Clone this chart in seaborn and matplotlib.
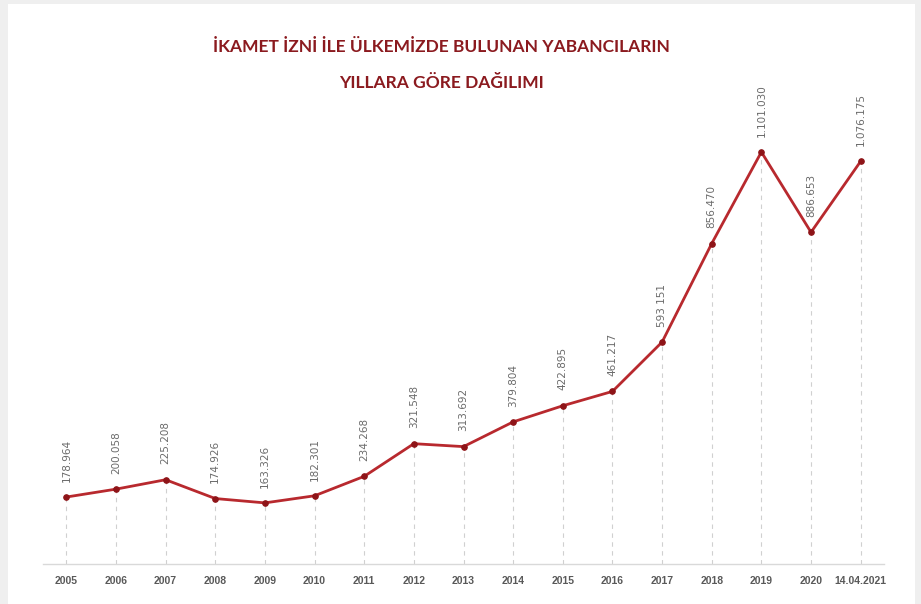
import matplotlib
matplotlib.use("Agg")
import matplotlib.pyplot as plt
import seaborn as sns
import pandas as pd
import numpy as np
from matplotlib.patches import Rectangle

years = ["2005", "2006", "2007", "2008", "2009", "2010", "2011", "2012", "2013",
         "2014", "2015", "2016", "2017", "2018", "2019", "2020", "14.04.2021"]
values = [178964, 200058, 225208, 174926, 163326, 182301, 234268, 321548, 313692,
          379804, 422895, 461217, 593151, 856470, 1101030, 886653, 1076175]
value_labels = ["178.964", "200.058", "225.208", "174.926", "163.326", "182.301",
                "234.268", "321.548", "313.692", "379.804", "422.895", "461.217",
                "593 151", "856.470", "1.101.030", "886.653", "1.076.175"]
title = "İKAMET İZNİ İLE ÜLKEMİZDE BULUNAN YABANCILARIN\nYILLARA GÖRE DAĞILIMI"

sns.set_theme(style="white")
plt.rcParams['font.family'] = ['DejaVu Sans']

df = pd.DataFrame({"pos": np.arange(len(years)), "value": values})

fig = plt.figure(figsize=(9.21, 6.04), dpi=100)
fig.patch.set_facecolor("#efefef")
fig.patches.append(Rectangle((8/921, 0), (915-8)/921, 1 - 4/604,
                             transform=fig.transFigure, facecolor="white",
                             edgecolor="none", zorder=-10))

ax = fig.add_axes([43/921, 1 - 564/604, (884-43)/921, (564-100)/604])
ax.set_facecolor("none")
ax.set_zorder(5)

ax.vlines(df["pos"], 0, df["value"], colors="#d0d0d0", linestyles=(0, (4, 4)),
          linewidth=0.8, zorder=1)

sns.lineplot(data=df, x="pos", y="value", ax=ax, color="#b8292e", linewidth=2.0,
             marker="o", markersize=4, markerfacecolor="#8e1418",
             markeredgecolor="#8e1418", zorder=3)

for p, v, lab in zip(df["pos"], values, value_labels):
    ax.annotate(lab, (p, v), xytext=(0, 11), textcoords="offset points",
                rotation=90, ha="center", va="bottom", fontsize=7.5,
                color="#6b6b6b")

ax.set_xlim(-0.47, len(years) - 1 + 0.47)
ax.set_ylim(0, 1.24e6)
ax.set_xticks(df["pos"])
ax.set_xticklabels(years, fontsize=7.5, fontweight="bold", color="#595959",
                   family=["Liberation Sans", "DejaVu Sans"])
ax.tick_params(axis="x", length=0, pad=9)
ax.set_yticks([])
ax.set_xlabel("")
ax.set_ylabel("")
for s in ["top", "left", "right"]:
    ax.spines[s].set_visible(False)
ax.spines["bottom"].set_color("#d9d9d9")
ax.spines["bottom"].set_linewidth(1.0)

fig.text(441/921, 1 - 65/604, title, ha="center", va="center", fontsize=12.5,
         fontweight="bold", color="#8b1a1f", linespacing=2.55,
         family=["Lato", "DejaVu Sans"])

fig.savefig("out.png", dpi=100)
